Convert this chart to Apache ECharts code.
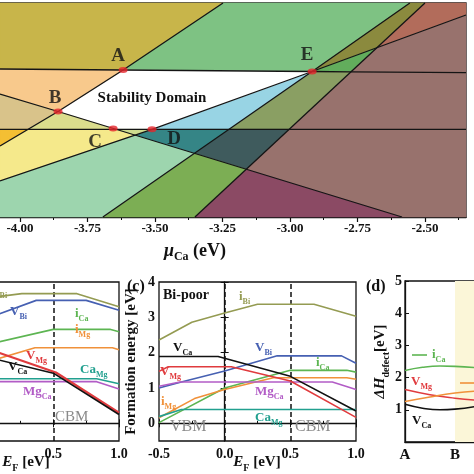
<!DOCTYPE html>
<html><head><meta charset="utf-8">
<script src="https://cdn.jsdelivr.net/npm/echarts@6/dist/echarts.min.js"></script>
<style>html,body{margin:0;padding:0;background:#fff}#c{width:474px;height:474px}</style>
</head><body><div id="c"></div>
<script>
// ---------- (a) chemical-potential map: x = mu_Ca (eV), y = hidden auxiliary potential axis ----------
const muCaTicks = [-4.00, -3.75, -3.50, -3.25, -3.00, -2.75, -2.50];
const muCaMinorTicks = [-4.125, -3.875, -3.625, -3.375, -3.125, -2.875, -2.625, -2.375];

const regGold = [[-4.074,214],[-3.248,214],[-3.618,147],[-4.074,148]];
const regGreenTop = [[-3.248,214],[-2.556,214],[-2.918,145.5],[-3.618,147]];
const regOliveDark = [[-2.556,214],[-2.500,214],[-2.678,169.3],[-2.918,145.5]];
const regRust = [[-2.500,214],[-2.348,214],[-2.348,202],[-2.678,169.3]];
const regGreenSmall = [[-2.918,145.5],[-2.678,169.3],[-2.774,145.2]];
const regMauve = [[-2.678,169.3],[-2.348,202],[-2.348,0],[-2.585,0],[-3.162,47.7],[-2.774,145.2]];
const regPlum = [[-3.162,47.7],[-2.585,0],[-3.352,0]];
const regOliveGreen = [[-2.918,145.5],[-2.774,145.2],[-3.003,87.7],[-3.226,87.7]];
const regSlate = [[-3.226,87.7],[-3.003,87.7],[-3.162,47.7],[-3.354,63.6]];
const regGreenLow = [[-3.354,63.6],[-3.162,47.7],[-3.352,0],[-3.693,0]];
const regLightBlue = [[-3.511,87.7],[-2.918,145.5],[-3.226,87.7]];
const regTeal = [[-3.511,87.7],[-3.226,87.7],[-3.354,63.6],[-3.575,81.8]];
const regStable = [[-3.618,147],[-2.918,145.5],[-3.511,87.7],[-3.647,87.7],[-3.859,105.5]];
const regPeach = [[-4.074,148],[-3.618,147],[-3.859,105.5],[-4.074,123]];
const regTan = [[-4.074,123],[-3.859,105.5],[-3.970,87.7],[-4.074,87.7]];
const regOrange = [[-4.074,87.7],[-3.970,87.7],[-4.074,71]];
const regYellowGreen = [[-3.859,105.5],[-3.647,87.7],[-3.970,87.7]];
const regYellow = [[-4.074,71],[-3.970,87.7],[-3.647,87.7],[-3.575,81.8],[-4.074,36]];
const regLime = [[-3.647,87.7],[-3.511,87.7],[-3.575,81.8]];
const regMint = [[-4.074,36],[-3.575,81.8],[-3.354,63.6],[-3.693,0],[-4.074,0]];

const lineL1 = [[-4.074,148],[-3.618,147],[-2.918,145.5],[-2.774,145.2],[-2.348,144.3]];
const lineL2 = [[-4.074,87.7],[-2.348,87.7]];
const lineL3 = [[-4.074,123],[-3.859,105.5],[-2.585,0]];
const lineL4 = [[-4.074,71],[-3.859,105.5],[-3.618,147],[-3.248,214]];
const lineL5 = [[-4.074,36],[-3.511,87.7],[-2.918,145.5]];
const lineL6 = [[-3.693,0],[-2.918,145.5],[-2.556,214]];
const lineL7 = [[-3.352,0],[-2.500,214]];
const lineL8 = [[-2.918,145.5],[-2.348,202]];

const phaseNames = ['A','B','C','D','E'];
const phaseMu = [-3.618, -3.859, -3.655, -3.511, -2.918];
const phaseY  = [147, 105.5, 88.6, 87.7, 145.5];

// ---------- (b) Bi-rich, (c) Bi-poor formation energies vs E_F ----------
const bIBi  = [[0,3.55],[0.26,3.67],[0.68,3.67],[1.0,3.30]];
const bVBi  = [[0,2.98],[0.37,3.48],[0.75,3.48],[1.0,3.20]];
const bICa  = [[0,2.23],[0.5,2.66],[0.93,2.66],[1.0,2.59]];
const bIMg  = [[0,1.74],[0.36,2.14],[0.95,2.14],[1.0,2.08]];
const bVMg  = [[0,2.11],[0.52,1.44],[1.0,0.30]];
const bVCa  = [[0,1.87],[0.5,1.42],[1.0,0.25]];
const bCaMg = [[0,1.26],[0.83,1.26],[1.0,1.12]];
const bMgCa = [[0,1.18],[0.83,1.18],[1.0,0.97]];

const cIBi  = [[-0.5,2.36],[-0.25,2.86],[0,3.12],[0.25,3.37],[0.68,3.37],[1.0,3.03]];
const cVBi  = [[-0.5,1.0],[-0.33,1.17],[0,1.48],[0.4,1.91],[0.89,1.91],[1.0,1.70]];
const cICa  = [[-0.5,0.02],[0,1.0],[0.5,1.5],[0.93,1.5],[1.0,1.45]];
const cIMg  = [[-0.5,0.16],[-0.23,0.70],[0,0.955],[0.37,1.29],[0.93,1.29],[1.0,1.25]];
const cVMg  = [[-0.5,1.47],[-0.43,1.60],[0.05,1.60],[0.5,1.20],[1.0,0.17]];
const cVCa  = [[-0.5,1.89],[-0.05,1.89],[0.5,1.33],[1.0,0.35]];
const cMgCa = [[-0.5,1.05],[-0.34,1.17],[0.82,1.17],[1.0,0.96]];
const cCaMg = [[-0.5,0.19],[-0.33,0.39],[1.0,0.39]];
const feTicks = [0, 1, 2, 3, 4];
const vbmEf = 0.0, cbmEf = 0.5;

// ---------- (d) defect enthalpy along path A-B-C ----------
const pathLabels = ['A','B','C'];
const dICa = [[0,2.22],[0.35,2.32],[0.7,2.36],[1.0,2.35],[1.4,2.31]];
const dVMg = [[0,1.63],[0.5,1.47],[1.0,1.36],[1.4,1.30]];
const dIMg = [[0,1.26],[0.5,1.40],[1.0,1.52],[1.4,1.58]];
const dVCa = [[0,1.17],[0.35,1.05],[0.7,1.00],[1.0,1.02],[1.4,1.10]];

// ---------- styles ----------
const SERIF = '"Liberation Serif","DejaVu Serif",serif';
const regions = [regGold, regGreenTop, regOliveDark, regRust, regGreenSmall, regMauve, regPlum,
  regOliveGreen, regSlate, regGreenLow, regLightBlue, regTeal, regStable, regPeach, regTan,
  regOrange, regYellowGreen, regYellow, regLime, regMint];
const regionColors = ['#c8b54a','#7ec283','#8b8a3e','#b26c5b','#62ad5c','#98726d','#8b4a64',
  '#8a9f63','#3f5b5d','#7cae54','#98d4e4','#358586','#ffffff','#f8c98c','#d9c38a',
  '#f4bf33','#dbdd8d','#f5e98b','#cddb8e','#9dd5ae'];
const boundaries = [lineL1, lineL2, lineL3, lineL4, lineL5, lineL6, lineL7, lineL8];

const C = {iBi:'#949b52', VBi:'#4660b2', iCa:'#5db552', iMg:'#f0913a', VMg:'#e03b3e', VCa:'#111111', CaMg:'#22a08f', MgCa:'#b25cc6'};

function mkRich(size, weight){
  const sub = Math.round(size*0.64);
  return {
    m:{fontSize:size, lineHeight:size+6, fontFamily:SERIF, fontWeight:weight||'bold'},
    i:{fontSize:size, lineHeight:size+6, fontFamily:SERIF, fontWeight:weight||'bold', fontStyle:'italic'},
    s:{fontSize:sub, lineHeight:sub+1, verticalAlign:'bottom', fontFamily:SERIF, fontWeight:weight||'bold'}
  };
}
function txt(t, x, y, color, size, weight, align){
  return {type:'text', x:x, y:y, z:100, silent:true,
    style:{text:t, fill:color, rich:mkRich(size, weight), align:align||'left', verticalAlign:'top'}};
}
function seg(x1,y1,x2,y2,color){
  return {type:'line', z:100, silent:true, shape:{x1:x1,y1:y1,x2:x2,y2:y2}, style:{stroke:color, lineWidth:1.6}};
}

const graphics = [
  txt('{m|Stability Domain}', 152, 88, '#111', 15, 'bold', 'center'),
  txt('{i|μ}{s|Ca}{m| (eV)}', 195, 239, '#111', 18, 'bold', 'center'),
  // (b)
  txt('{m|i}{s|Bi}', -4, 281, C.iBi, 13),
  txt('{m|V}{s|Bi}', 10, 302, C.VBi, 13),
  txt('{m|i}{s|Ca}', 75, 304, C.iCa, 13),
  txt('{m|i}{s|Mg}', 75, 320, C.iMg, 13),
  txt('{m|V}{s|Mg}', 26, 346, C.VMg, 13),
  txt('{m|V}{s|Ca}', 8, 357, C.VCa, 13),
  txt('{m|Ca}{s|Mg}', 80, 360, C.CaMg, 13),
  txt('{m|Mg}{s|Ca}', 23, 382, C.MgCa, 13),
  txt('{m|CBM}', 55, 407, '#8a8a8a', 15, 'normal'),
  txt('{i|E}{s|F}{m| [eV]}', 26, 452, '#111', 15, 'bold', 'center'),
  // (c)
  txt('{m|(c)}', 127, 276, '#111', 16),
  txt('{m|Bi-poor}', 163, 285, '#111', 14),
  txt('{m|i}{s|Bi}', 239, 287, C.iBi, 13),
  txt('{m|V}{s|Ca}', 173, 338, C.VCa, 13),
  txt('{m|V}{s|Bi}', 255, 338, C.VBi, 13),
  txt('{m|i}{s|Ca}', 316, 353, C.iCa, 13),
  txt('{m|V}{s|Mg}', 160, 362, C.VMg, 13),
  txt('{m|Mg}{s|Ca}', 255, 382, C.MgCa, 13),
  txt('{m|i}{s|Mg}', 161, 392, C.iMg, 13),
  txt('{m|Ca}{s|Mg}', 255, 408, C.CaMg, 13),
  txt('{m|VBM}', 170, 416, '#8a8a8a', 16, 'normal'),
  txt('{m|CBM}', 295, 416, '#8a8a8a', 16, 'normal'),
  txt('{i|E}{s|F}{m| [eV]}', 257, 452, '#111', 15, 'bold', 'center'),
  // (d)
  txt('{m|(d)}', 366, 276, '#111', 16),
  seg(412, 355, 427, 355, C.iCa),
  txt('{m|i}{s|Ca}', 432, 345, C.iCa, 13),
  txt('{m|V}{s|Mg}', 411, 372, C.VMg, 13),
  seg(460, 383, 474, 383, C.iMg),
  txt('{m|V}{s|Ca}', 412, 411, C.VCa, 13)
];

const tickFont = {fontFamily:SERIF, fontWeight:'bold', color:'#111'};

function feSeries(name, data, color, xi, yi, extra){
  return Object.assign({name:name, type:'line', data:data, xAxisIndex:xi, yAxisIndex:yi,
    showSymbol:false, symbol:'none', silent:true, lineStyle:{color:color, width:1.6}, z:5}, extra||{});
}
const dashLine = (vals) => ({silent:true, symbol:['none','none'], label:{show:false},
  lineStyle:{type:[5,3], color:'#111', width:1.5}, data: vals.map(v => ({xAxis:v}))});

const series = [];
// phase map: all region polygons, then all boundary lines, rendered in one group (drawing order kept)
series.push({
  type:'custom', xAxisIndex:0, yAxisIndex:0, silent:true, z:2, clip:false,
  data: [regions[0][0]],
  renderItem: function(params, api){
    const children = [];
    regions.forEach((r, i) => children.push({type:'polygon', z2:1,
      shape:{points:r.map(p => api.coord(p))},
      style:{fill:regionColors[i], stroke:regionColors[i], lineWidth:0.5}}));
    boundaries.forEach(b => children.push({type:'polyline', z2:10,
      shape:{points:b.map(p => api.coord(p))},
      style:{stroke:'#141414', lineWidth:1.3, fill:'none'}}));
    return {type:'group', children:children};
  }
});
const labelOffsets = [[-5,-14],[-3,-13],[-18,14],[22,10],[-5,-16]];
series.push({
  type:'scatter', xAxisIndex:0, yAxisIndex:0, z:6, symbol:'circle', symbolSize:[9,6],
  itemStyle:{color:'#e5262c'},
  data: phaseNames.map((n,i) => ({value:[phaseMu[i], phaseY[i]], name:n,
    label:{show:true, formatter:n, offset:labelOffsets[i], position:'inside',
      fontFamily:SERIF, fontWeight:'bold', fontSize:19, color:'#111'}}))
});
// (b)
series.push(feSeries('iBi', bIBi, C.iBi, 2, 1));
series.push(feSeries('VBi', bVBi, C.VBi, 2, 1));
series.push(feSeries('iCa', bICa, C.iCa, 2, 1));
series.push(feSeries('iMg', bIMg, C.iMg, 2, 1));
series.push(feSeries('CaMg', bCaMg, C.CaMg, 2, 1));
series.push(feSeries('MgCa', bMgCa, C.MgCa, 2, 1));
series.push(feSeries('VMg', bVMg, C.VMg, 2, 1, {lineStyle:{color:C.VMg, width:2.2}}));
series.push(feSeries('VCa', bVCa, C.VCa, 2, 1, {markLine: dashLine([cbmEf])}));
// (c)
series.push(feSeries('iBi', cIBi, C.iBi, 4, 3));
series.push(feSeries('VBi', cVBi, C.VBi, 4, 3));
series.push(feSeries('iCa', cICa, C.iCa, 4, 3));
series.push(feSeries('iMg', cIMg, C.iMg, 4, 3));
series.push(feSeries('CaMg', cCaMg, C.CaMg, 4, 3));
series.push(feSeries('MgCa', cMgCa, C.MgCa, 4, 3));
series.push(feSeries('VMg', cVMg, C.VMg, 4, 3));
series.push(feSeries('VCa', cVCa, C.VCa, 4, 3, {markLine: dashLine([vbmEf, cbmEf])}));
// (d)
series.push(feSeries('iCa', dICa, C.iCa, 6, 5, {smooth:true, markArea:{silent:true, itemStyle:{color:'#fbf6d8'},
  data:[[{xAxis:1},{xAxis:2}]]}}));
series.push(feSeries('VMg', dVMg, C.VMg, 6, 5, {smooth:true}));
series.push(feSeries('iMg', dIMg, C.iMg, 6, 5, {smooth:true}));
series.push(feSeries('VCa', dVCa, C.VCa, 6, 5, {smooth:true}));

const border = {show:true, borderColor:'#111', borderWidth:1.3, backgroundColor:'transparent', containLabel:false, outerBoundsMode:'none'};
const option = {
  animation:false,
  backgroundColor:'#ffffff',
  grid:[
    Object.assign({left:0, right:8, top:3, bottom:257}, border),
    Object.assign({left:-78, right:355, top:282, bottom:33}, border),
    Object.assign({left:159, right:118, top:282, bottom:33}, border),
    Object.assign({left:405, right:-31, top:281, bottom:32}, border)
  ],
  xAxis:[
    {gridIndex:0, type:'value', min:-4.074, max:-2.348, splitLine:{show:false},
      axisLine:{lineStyle:{color:'#111', width:1.3}},
      axisTick:{customValues:muCaTicks, length:5, inside:false, lineStyle:{color:'#111', width:1.2}},
      axisLabel:Object.assign({customValues:muCaTicks, fontSize:13, margin:5, formatter:v => v.toFixed(2)}, tickFont)},
    {gridIndex:0, type:'value', min:-4.074, max:-2.348, position:'bottom', splitLine:{show:false},
      axisLine:{show:false}, axisLabel:{show:false},
      axisTick:{customValues:muCaMinorTicks, length:3, inside:false, lineStyle:{color:'#111', width:1}}},
    {gridIndex:1, type:'value', min:-0.5, max:1.0, interval:0.5, splitLine:{show:false},
      axisLine:{lineStyle:{color:'#111', width:1.3}},
      axisTick:{inside:true, length:4, lineStyle:{color:'#111'}}, minorTick:{show:true, splitNumber:2, length:2.5, lineStyle:{color:'#111'}},
      axisLabel:Object.assign({fontSize:14, margin:6, formatter:v => v.toFixed(1)}, tickFont)},
    {gridIndex:1, type:'value', min:-0.5, max:1.0, interval:0.5, position:'top', splitLine:{show:false},
      axisLine:{show:false}, axisLabel:{show:false}, axisTick:{inside:true, length:4, lineStyle:{color:'#111'}}},
    {gridIndex:2, type:'value', min:-0.5, max:1.0, interval:0.5, splitLine:{show:false},
      axisLine:{lineStyle:{color:'#111', width:1.3}},
      axisTick:{inside:true, length:4, lineStyle:{color:'#111'}}, minorTick:{show:true, splitNumber:2, length:2.5, lineStyle:{color:'#111'}},
      axisLabel:Object.assign({fontSize:14, margin:6, formatter:v => v.toFixed(1)}, tickFont)},
    {gridIndex:2, type:'value', min:-0.5, max:1.0, interval:0.5, position:'top', splitLine:{show:false},
      axisLine:{show:false}, axisLabel:{show:false}, axisTick:{inside:true, length:4, lineStyle:{color:'#111'}}},
    {gridIndex:3, type:'value', min:0, max:2, interval:1, splitLine:{show:false},
      axisLine:{lineStyle:{color:'#111', width:1.3}},
      axisTick:{inside:true, length:4, lineStyle:{color:'#111'}},
      axisLabel:Object.assign({fontSize:15, margin:6, formatter:v => pathLabels[Math.round(v)] || ''}, tickFont)}
  ],
  yAxis:[
    {gridIndex:0, type:'value', min:0, max:214, show:false, splitLine:{show:false}},
    {gridIndex:1, type:'value', min:-0.5, max:4, splitLine:{show:false},
      axisLine:{lineStyle:{color:'#111'}}, axisTick:{customValues:feTicks, inside:true},
      axisLabel:Object.assign({customValues:feTicks, fontSize:13}, tickFont)},
    {gridIndex:1, type:'value', min:-0.5, max:4, position:'right', splitLine:{show:false},
      axisLine:{show:false}, axisLabel:{show:false}, axisTick:{customValues:feTicks, inside:true, length:4, lineStyle:{color:'#111'}}},
    {gridIndex:2, type:'value', min:-0.5, max:4, splitLine:{show:false},
      axisLine:{lineStyle:{color:'#111', width:1.3}},
      axisTick:{customValues:feTicks, inside:true, length:4, lineStyle:{color:'#111'}},
      axisLabel:Object.assign({customValues:feTicks, fontSize:14, margin:4}, tickFont),
      name:'Formation energy [eV]', nameLocation:'middle', nameGap:20,
      nameTextStyle:{fontFamily:SERIF, fontWeight:'bold', fontSize:15, color:'#111'}},
    {gridIndex:2, type:'value', min:-0.5, max:4, position:'right', splitLine:{show:false},
      axisLine:{show:false}, axisLabel:{show:false}, axisTick:{customValues:feTicks, inside:true, length:4, lineStyle:{color:'#111'}}},
    {gridIndex:3, type:'value', min:0, max:5, interval:1, splitLine:{show:false},
      axisLine:{lineStyle:{color:'#111', width:1.3}},
      axisTick:{inside:true, length:4, lineStyle:{color:'#111'}},
      axisLabel:Object.assign({fontSize:14, margin:3, showMinLabel:false}, tickFont),
      name:'{i|ΔH}{s|defect}{m|[eV]}', nameLocation:'middle', nameGap:13,
      nameTextStyle:{fontFamily:SERIF, fontWeight:'bold', fontSize:15, color:'#111', rich:mkRich(15)}}
  ],
  graphic: graphics,
  series: series
};
const chart = echarts.init(document.getElementById('c'), null, {renderer:'canvas'});
chart.setOption(option);
</script></body></html>
